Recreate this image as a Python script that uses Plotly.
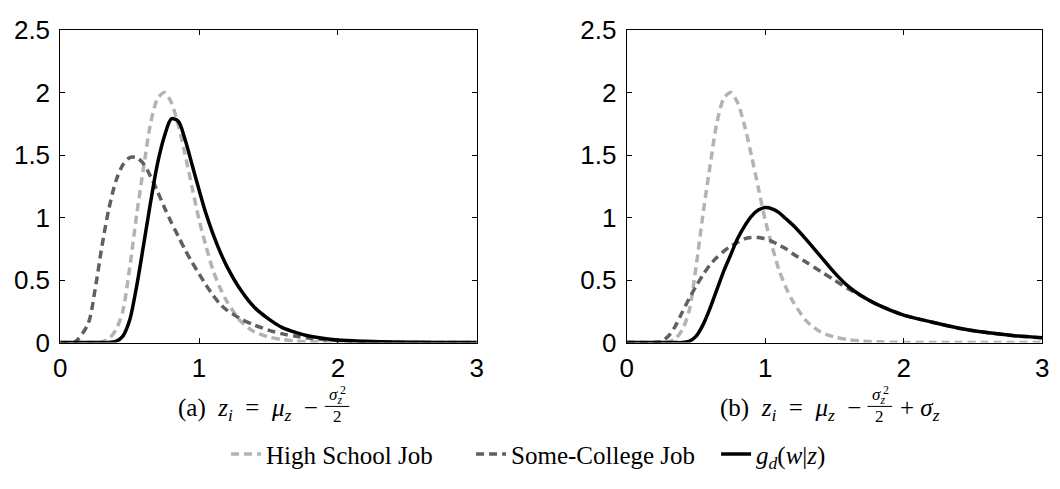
import plotly.graph_objects as go
from plotly.subplots import make_subplots

W, H = 1060, 489

# Wage grid shared by every density curve
wage = [0, 0.1, 0.2, 0.25, 0.3, 0.35, 0.4, 0.45, 0.5, 0.55,
        0.6, 0.65, 0.7, 0.75, 0.8, 0.85, 0.9, 0.95, 1.0, 1.05,
        1.1, 1.15, 1.2, 1.3, 1.4, 1.5, 1.6, 1.7, 1.8, 2.0,
        2.2, 2.4, 2.6, 2.8, 3.0]

# High-school job wage density (same in both panels)
high_school = [0, 0, 0, 0, 0.005, 0.03, 0.10, 0.25, 0.60, 1.02,
               1.40, 1.75, 1.95, 2.0, 1.92, 1.74, 1.50, 1.24, 0.98, 0.77,
               0.58, 0.44, 0.33, 0.17, 0.085, 0.045, 0.024, 0.012, 0.006, 0.0015,
               0, 0, 0, 0, 0]

# Panel (a): z_i = mu_z - sigma_z^2 / 2
some_college_a = [0, 0, 0.15, 0.42, 0.77, 1.07, 1.29, 1.42, 1.48, 1.48,
                  1.43, 1.33, 1.21, 1.08, 0.96, 0.85, 0.74, 0.64, 0.55, 0.46,
                  0.38, 0.31, 0.26, 0.19, 0.14, 0.10, 0.07, 0.05, 0.035, 0.015,
                  0.007, 0.003, 0.001, 0, 0]
g_d_a = [0, 0, 0, 0, 0, 0, 0.01, 0.05, 0.18, 0.45,
         0.78, 1.12, 1.43, 1.65, 1.79, 1.77, 1.62, 1.42, 1.22, 1.03,
         0.87, 0.73, 0.61, 0.42, 0.28, 0.19, 0.12, 0.08, 0.05, 0.02,
         0.01, 0.004, 0.002, 0.001, 0]

# Panel (b): z_i = mu_z - sigma_z^2 / 2 + sigma_z
some_college_b = [0, 0, 0, 0.01, 0.05, 0.13, 0.24, 0.35, 0.45, 0.54,
                  0.62, 0.68, 0.73, 0.77, 0.80, 0.83, 0.84, 0.84, 0.83, 0.81,
                  0.78, 0.75, 0.71, 0.64, 0.57, 0.50, 0.43, 0.37, 0.31, 0.22,
                  0.165, 0.115, 0.08, 0.055, 0.038]
g_d_b = [0, 0, 0, 0, 0, 0, 0, 0.01, 0.05, 0.14,
         0.27, 0.42, 0.57, 0.70, 0.83, 0.93, 1.01, 1.06, 1.08, 1.07,
         1.04, 0.99, 0.94, 0.82, 0.69, 0.56, 0.45, 0.37, 0.31, 0.22,
         0.165, 0.115, 0.08, 0.055, 0.038]

x_ticks = [0, 1, 2, 3]
y_ticks = [0, 0.5, 1, 1.5, 2, 2.5]
y_tick_text = ["0", "0.5", "1", "1.5", "2", "2.5"]

LIGHT = "#b3b3b3"
DARK = "#606060"
SERIF = "Liberation Serif, Times New Roman, serif"
SANS = "Liberation Sans, Arial, Helvetica, sans-serif"
NB = "\u00a0"


def px(xp):
    return xp / W


def py(yp):
    return 1 - yp / H


fig = make_subplots(rows=1, cols=2)

panels = [(1, some_college_a, g_d_a), (2, some_college_b, g_d_b)]
for col, sc, gd in panels:
    first = col == 1
    fig.add_trace(go.Scatter(
        x=wage, y=high_school, mode="lines", name="High School Job",
        line=dict(color=LIGHT, width=3.5, dash="8px,5px", shape="spline", smoothing=0.8),
        showlegend=first), row=1, col=col)
    fig.add_trace(go.Scatter(
        x=wage, y=sc, mode="lines", name="Some-College Job",
        line=dict(color=DARK, width=3.5, dash="8px,5px", shape="spline", smoothing=0.8),
        showlegend=first), row=1, col=col)
    fig.add_trace(go.Scatter(
        x=wage, y=gd, mode="lines",
        name="<i>g</i><sub><i>d</i></sub>(<i>w</i>|<i>z</i>)",
        line=dict(color="black", width=3.5, shape="spline", smoothing=0.8),
        showlegend=first), row=1, col=col)

axis_style = dict(
    showline=True, linecolor="black", linewidth=1, mirror="ticks",
    ticks="inside", ticklen=5, tickwidth=1, tickcolor="black",
    showgrid=False, zeroline=False,
    tickfont=dict(family=SANS, size=26, color="black"),
)
x_style = dict(range=[0, 3], tickvals=x_ticks, ticklabelstandoff=2, **axis_style)
y_style = dict(range=[0, 2.5], tickvals=y_ticks, ticktext=y_tick_text,
               ticklabelstandoff=4, **axis_style)

y0, y1 = py(349), py(16)
fig.update_layout(
    xaxis=dict(domain=[px(54), px(476)], **x_style),
    xaxis2=dict(domain=[px(628), px(1049)], **x_style),
    yaxis=dict(domain=[y0, y1], **y_style),
    yaxis2=dict(domain=[y0, y1], **y_style),
)

# Sub-captions with a stacked fraction sigma_z^2 / 2
annotations = []
shapes = []


def caption(label, frac_l, extra=False):
    main = (f"({label}){NB}{NB}<i>z</i><sub><i>i</i></sub>{NB}{NB}={NB}{NB}"
            f"<i>μ</i><sub><i>z</i></sub>{NB}{NB}−")
    frac_r = frac_l + 25
    bar_y = 417
    annotations.append(dict(text=main, x=px(frac_l - 5), y=py(bar_y + 3), xref="paper", yref="paper",
                            xanchor="right", yanchor="middle", showarrow=False,
                            font=dict(family=SERIF, size=25, color="black")))
    annotations.append(dict(text="<i>σ</i><sub><i>z</i></sub>", x=px(frac_l + 11), y=py(bar_y - 11),
                            xref="paper", yref="paper", xanchor="center", yanchor="middle",
                            showarrow=False, font=dict(family=SERIF, size=17, color="black")))
    annotations.append(dict(text="2", x=px(frac_l + 19), y=py(bar_y - 17),
                            xref="paper", yref="paper", xanchor="center", yanchor="middle",
                            showarrow=False, font=dict(family=SERIF, size=12, color="black")))
    annotations.append(dict(text="2", x=px((frac_l + frac_r) / 2), y=py(bar_y + 11),
                            xref="paper", yref="paper", xanchor="center", yanchor="middle",
                            showarrow=False, font=dict(family=SERIF, size=17, color="black")))
    shapes.append(dict(type="line", xref="paper", yref="paper",
                       x0=px(frac_l), x1=px(frac_r), y0=py(bar_y), y1=py(bar_y),
                       line=dict(color="black", width=1)))
    if extra:
        annotations.append(dict(text=f"+{NB}<i>σ</i><sub><i>z</i></sub>", x=px(frac_r + 6), y=py(bar_y + 3),
                                xref="paper", yref="paper", xanchor="left", yanchor="middle",
                                showarrow=False, font=dict(family=SERIF, size=25, color="black")))


caption("a", 322)
caption("b", 872, extra=True)

fig.update_layout(
    width=W, height=H,
    margin=dict(l=0, r=0, t=0, b=0),
    paper_bgcolor="white", plot_bgcolor="white",
    annotations=annotations, shapes=shapes,
    legend=dict(orientation="h", x=px(222), y=py(468), xanchor="left", yanchor="middle",
                font=dict(family=SERIF, size=25, color="black"),
                itemwidth=30, entrywidth=200, entrywidthmode="pixels",
                bgcolor="rgba(0,0,0,0)", tracegroupgap=0),
)

fig.write_html("out.html")
